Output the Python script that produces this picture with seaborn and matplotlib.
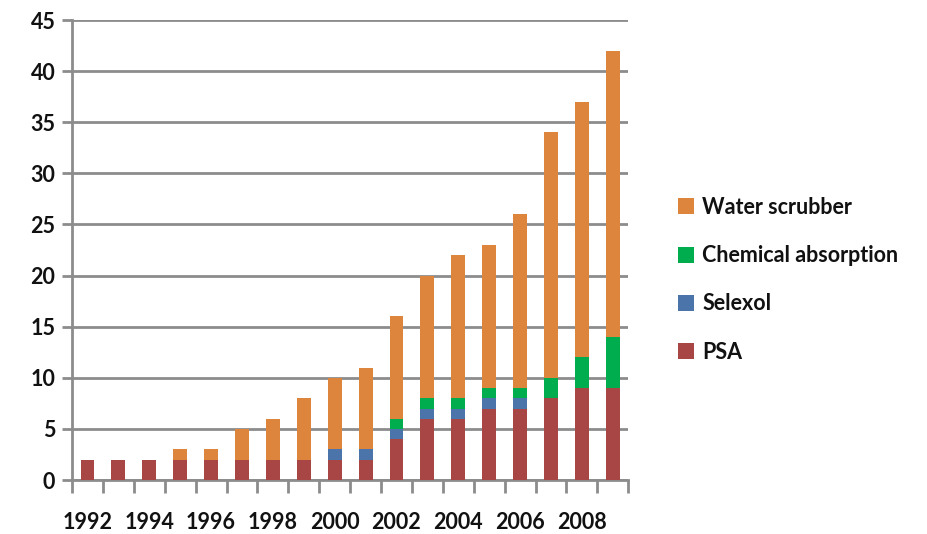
import matplotlib
matplotlib.use("Agg")
import matplotlib.pyplot as plt
import seaborn as sns
import numpy as np
import pandas as pd
from matplotlib.patches import Patch

years = list(range(1992, 2010))
psa = [2, 2, 2, 2, 2, 2, 2, 2, 2, 2, 4, 6, 6, 7, 7, 8, 9, 9]
selexol = [0, 0, 0, 0, 0, 0, 0, 0, 1, 1, 1, 1, 1, 1, 1, 0, 0, 0]
chemical = [0, 0, 0, 0, 0, 0, 0, 0, 0, 0, 1, 1, 1, 1, 1, 2, 3, 5]
water = [0, 0, 0, 1, 1, 3, 4, 6, 7, 8, 10, 12, 14, 14, 17, 24, 25, 28]
series_names = ["PSA", "Selexol", "Chemical absorption", "Water scrubber"]
colors = ["#A84545", "#4A74AA", "#00AD4E", "#DD853D"]
yticks = list(range(0, 50, 5))

sns.set_theme(style="white")
plt.rcParams["font.family"] = ["Lato", "DejaVu Sans"]
plt.rcParams["font.weight"] = "bold"

fig = plt.figure(figsize=(9.27, 5.34), dpi=100)
ax = fig.add_axes([0.0777, 0.101, 0.6, 0.8615])

df = pd.DataFrame({"year": [str(y) for y in years], "PSA": psa,
                   "Selexol": selexol, "Chemical absorption": chemical,
                   "Water scrubber": water})
bottom = np.zeros(len(years))
for name, col in zip(series_names, colors):
    vals = np.array(df[name], dtype=float)
    sns.barplot(data=df, x="year", y=name, color=col, bottom=bottom,
                width=0.45, ax=ax, saturation=1, linewidth=0, zorder=3)
    bottom = bottom + vals

ax.set_xlim(-0.5, len(years) - 0.5)
ax.set_ylim(0, 45)
ax.set_yticks(yticks)
ax.set_yticklabels([str(v) for v in yticks], fontsize=15.5, color="#111111",
                   fontweight="bold")
ax.yaxis.grid(True, color="#8C8C8C", linewidth=2, zorder=0)
ax.set_axisbelow(True)

ax.set_xticks(range(0, len(years), 2))
ax.set_xticklabels([str(y) for y in years[::2]], fontsize=15.5, color="#111111",
                   fontweight="bold")
ax.set_xticks(np.arange(-0.5, len(years), 1), minor=True)
ax.tick_params(axis="x", which="major", length=0, pad=23)
ax.tick_params(axis="x", which="minor", length=9, width=2, color="#8C8C8C", direction="out")
ax.tick_params(axis="y", which="major", length=7, width=2, color="#8C8C8C", direction="out", pad=5)
ax.tick_params(bottom=True, left=True, which="both")
ax.set_xlabel("")
ax.set_ylabel("")
for s in ["top", "right"]:
    ax.spines[s].set_visible(False)
for s in ["left", "bottom"]:
    ax.spines[s].set_color("#8C8C8C")
    ax.spines[s].set_linewidth(2)

handles = [Patch(facecolor=c, edgecolor="none") for c in colors][::-1]
labels = series_names[::-1]
fig.legend(handles, labels, loc="center left", bbox_to_anchor=(0.71, 0.476),
           frameon=False, prop={"size": 15.5, "weight": "bold"},
           handlelength=0.75, handleheight=0.75,
           labelspacing=1.27, handletextpad=0.4, labelcolor="#111111")

fig.savefig("out.png", dpi=100)
